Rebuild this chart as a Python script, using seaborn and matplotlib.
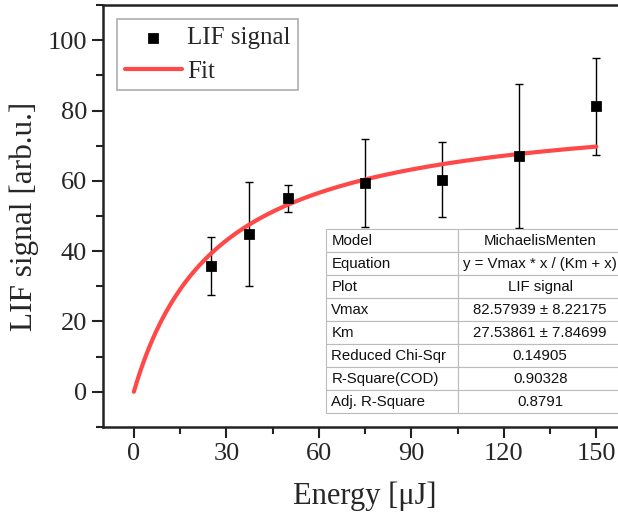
import numpy as np
import pandas as pd
import matplotlib.pyplot as plt
import seaborn as sns
from matplotlib.ticker import MultipleLocator

energy = [25, 37.5, 50, 75, 100, 125, 150]
signal = [35.8, 44.9, 55.0, 59.5, 60.3, 67.0, 81.2]
signal_err = [8.2, 14.7, 3.8, 12.5, 10.7, 20.5, 13.8]

vmax = 82.57939
km = 27.53861

table_labels = ["Model", "Equation", "Plot", "Vmax", "Km",
                "Reduced Chi-Sqr", "R-Square(COD)", "Adj. R-Square"]
table_values = ["MichaelisMenten", "y = Vmax * x / (Km + x)", "LIF signal",
                "82.57939 \u00b1 8.22175", "27.53861 \u00b1 7.84699",
                "0.14905", "0.90328", "0.8791"]

df = pd.DataFrame({"energy": energy, "signal": signal, "err": signal_err})
x_fit = np.linspace(0, 150, 300)
fit = pd.DataFrame({"energy": x_fit, "signal": vmax * x_fit / (km + x_fit)})

sns.set_style("ticks")
plt.rcParams["font.family"] = ["Liberation Serif", "DejaVu Serif"]

fig = plt.figure(figsize=(6.18, 5.2), dpi=100)
ax = fig.add_axes([0.1667, 0.179, 0.848, 0.811])

ax.errorbar(df["energy"], df["signal"], yerr=df["err"], fmt="none",
            ecolor="black", elinewidth=1, capsize=3, capthick=1, zorder=2)
sns.lineplot(data=fit, x="energy", y="signal", color="#ff4848", lw=3,
             label="Fit", ax=ax, zorder=3)
sns.scatterplot(data=df, x="energy", y="signal", marker="s", s=48,
                color="black", edgecolor="black", label="LIF signal",
                ax=ax, zorder=4)

ax.set_xlim(-10, 160)
ax.set_ylim(-10, 110)
ax.xaxis.set_major_locator(MultipleLocator(30))
ax.xaxis.set_minor_locator(MultipleLocator(15))
ax.yaxis.set_major_locator(MultipleLocator(20))
ax.yaxis.set_minor_locator(MultipleLocator(10))
ax.tick_params(which="major", direction="out", length=8, width=1.5,
               labelsize=19, color="#222222",
               labelfontfamily="Liberation Serif")
ax.tick_params(which="minor", direction="out", length=5, width=1.5,
               color="#222222")
for s in ax.spines.values():
    s.set_linewidth(1.8)
    s.set_color("#222222")

ax.set_xlabel("Energy [\u03bcJ]", fontsize=22, labelpad=12)
ax.set_ylabel("LIF signal [arb.u.]", fontsize=22.5, labelpad=6)

handles, labels = ax.get_legend_handles_labels()
order = [labels.index("LIF signal"), labels.index("Fit")]
leg = ax.legend([handles[i] for i in order], [labels[i] for i in order],
                loc="upper left", bbox_to_anchor=(0.027, 0.967),
                fontsize=18, frameon=True, fancybox=False, handlelength=2.3,
                handletextpad=0.2, borderpad=0.3, labelspacing=0.45,
                borderaxespad=0)
leg.get_frame().set_edgecolor("#999999")
leg.get_frame().set_linewidth(1.2)

cells = [[a, b] for a, b in zip(table_labels, table_values)]
tab = ax.table(cellText=cells, cellLoc="left", colWidths=[0.252, 0.313],
               bbox=[0.4256, 0.033, 0.565, 0.436], zorder=5)
tab.auto_set_font_size(False)
for (r, c), cell in tab.get_celld().items():
    cell.set_edgecolor("#bbbbbb")
    cell.set_linewidth(0.8)
    cell.set_facecolor("white")
    cell.PAD = 0.04
    cell.get_text().set_fontsize(10.8)
    cell.get_text().set_fontfamily("Liberation Sans")
    cell.get_text().set_color("#111111")
    if c == 1:
        cell.get_text().set_ha("center")
        cell._loc = "center"

fig.savefig("out.png", dpi=100)
